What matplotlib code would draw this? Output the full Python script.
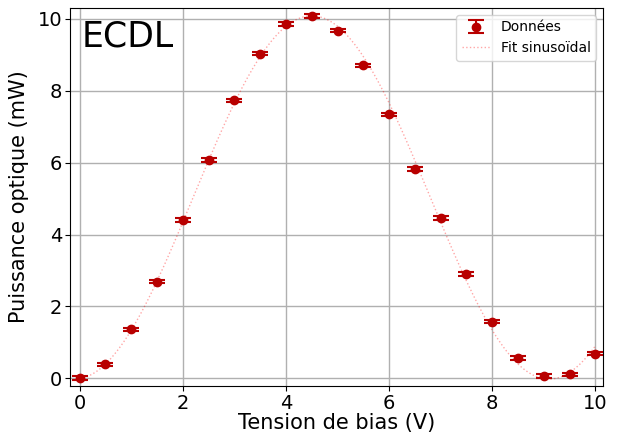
import numpy as np
import matplotlib
matplotlib.use("Agg")
import matplotlib.pyplot as plt

# Mesures
tension = [0, 0.5, 1, 1.5, 2, 2.5, 3, 3.5, 4, 4.5, 5, 5.5, 6, 6.5, 7, 7.5, 8, 8.5, 9, 9.5, 10]
puissance = [0.01, 0.39, 1.36, 2.69, 4.40, 6.07, 7.73, 9.03, 9.86, 10.08, 9.67,
             8.70, 7.34, 5.82, 4.46, 2.91, 1.58, 0.57, 0.06, 0.11, 0.69]
erreur = [0.05] * len(tension)

# Parametres du fit sinusoidal
fit_amp = 5.05
fit_offset = 5.03
fit_period = 9.2
fit_x0 = -0.1

x_fit = np.linspace(0, 10, 300)
y_fit = fit_offset - fit_amp * np.cos(2 * np.pi * (x_fit - fit_x0) / fit_period)

fig, ax = plt.subplots(figsize=(6.18, 4.38), dpi=100)
fig.subplots_adjust(left=0.113, right=0.976, top=0.982, bottom=0.118)

eb = ax.errorbar(tension, puissance, yerr=erreur, fmt='o', color='#b80000', markersize=6,
                 capsize=6, elinewidth=1.5, capthick=1.5, label='Données', zorder=3)
ln, = ax.plot(x_fit, y_fit, ':', color='red', alpha=0.35, linewidth=1, label='Fit sinusoïdal')

ax.set_xlim(-0.19, 10.15)
ax.set_ylim(-0.22, 10.3)
ax.set_xticks([0, 2, 4, 6, 8, 10])
ax.set_yticks([0, 2, 4, 6, 8, 10])
ax.tick_params(labelsize=14, pad=2)
ax.grid(True, color='#b0b0b0', linewidth=1)
ax.set_axisbelow(True)

ax.set_xlabel('Tension de bias (V)', fontsize=15, labelpad=0)
ax.set_ylabel('Puissance optique (mW)', fontsize=15, labelpad=6)
ax.text(0.022, 0.97, 'ECDL', transform=ax.transAxes, fontsize=25, va='top', ha='left')
ax.legend([eb, ln], ['Données', 'Fit sinusoïdal'], loc='upper right', fontsize=10)

plt.savefig('out.png', dpi=100)
